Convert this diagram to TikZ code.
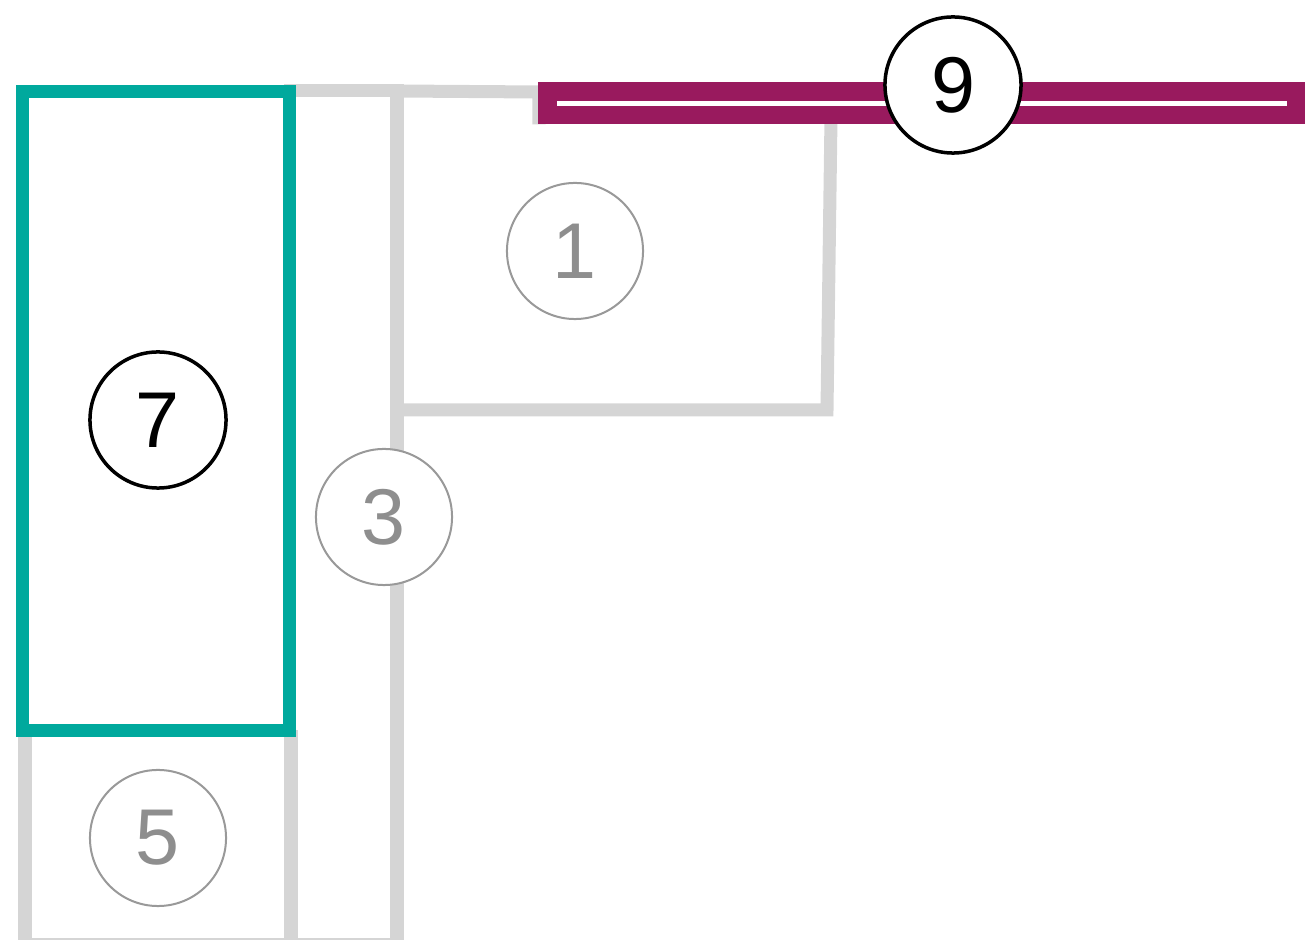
\documentclass[tikz,border=0pt]{standalone}
\usepackage{fontspec}
\setmainfont{Liberation Sans}
\definecolor{wallgrey}{HTML}{D5D5D5}
\definecolor{roomteal}{HTML}{00A99D}
\definecolor{barplum}{HTML}{991A5E}
\definecolor{badgegrey}{HTML}{999999}
\definecolor{digitgrey}{HTML}{8E8E8E}
\tikzset{
    grey wall/.style={
        draw=wallgrey,
        line width=0.13cm,
        line cap=rect,
        line join=miter
    },
    teal wall/.style={
        draw=roomteal,
        line width=0.13cm
    },
    badge/.style={
        circle,
        fill=white,
        minimum size=1.36cm,
        inner sep=0pt,
        font=\fontsize{22.5pt}{22.5pt}\selectfont
    },
    grey badge/.style={
        badge,
        draw=badgegrey,
        line width=0.02cm,
        text=digitgrey
    },
    black badge/.style={
        badge,
        draw=black,
        line width=0.035cm,
        text=black
    }
}

\begin{document}
\begin{tikzpicture}[x=0.01cm, y=-0.01cm]
                \useasboundingbox (0,0) rectangle (1314,940);
                % grey walls
                \draw[grey wall] (25,737) -- (25,945) -- (291,945) -- (291,737);
                \draw[grey wall] (291,945) -- (397,945) -- (397,91) -- (291,91);
                \draw[grey wall] (397,91) -- (539,92) -- (539,118);
                \draw[grey wall] (831,118) -- (827,410) -- (397,410);
                % teal room
                \draw[teal wall] (22.5,91.5) rectangle (289.5,730.5);
                % plum bar
                \fill[barplum] (538,82) rectangle (1305,124);
                \draw[white, line width=0.05cm] (557,103.5) -- (1287,103.5);
                % badges
                \node[grey badge] (n1) at (575,251) {1};
                \node[grey badge] (n3) at (384,517) {3};
                \node[grey badge] (n5) at (158,838) {5};
                \node[black badge] (n7) at (158,420) {7};
                \node[black badge] (n9) at (953,85) {9};
          \end{tikzpicture}
\end{document}
